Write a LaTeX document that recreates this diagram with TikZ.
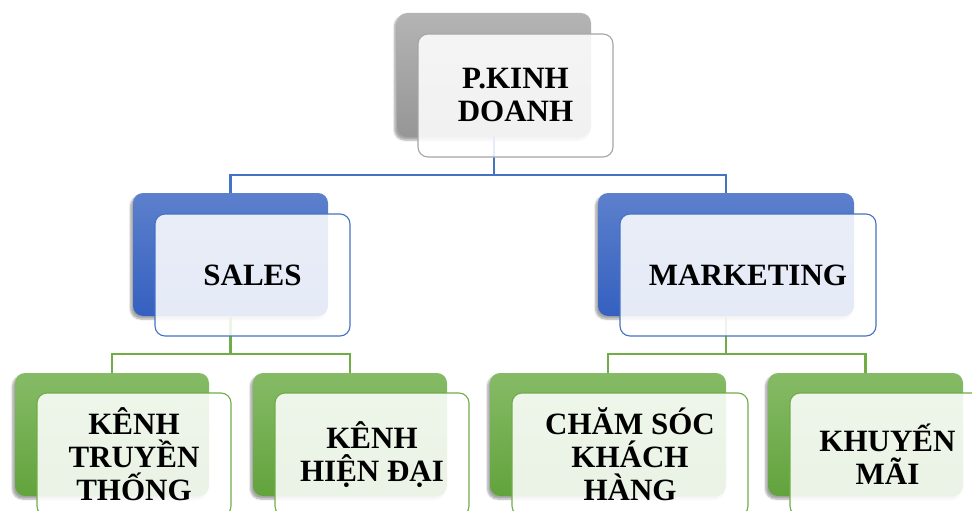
\documentclass[tikz,border=0pt]{standalone}
\usepackage{fontspec}
\setmainfont{Liberation Serif}
\usetikzlibrary{shadows.blur}
\definecolor{grayTop}{HTML}{B4B4B4}
\definecolor{grayBot}{HTML}{969696}
\definecolor{grayLine}{HTML}{A5A5A5}
\definecolor{blueTop}{HTML}{5C80CC}
\definecolor{blueBot}{HTML}{3560C0}
\definecolor{blueLine}{HTML}{4472C4}
\definecolor{greenTop}{HTML}{86BB66}
\definecolor{greenBot}{HTML}{62A33D}
\definecolor{greenLine}{HTML}{70AD47}
\tikzset{
  backbox/.style={draw=none, rounded corners=10pt, inner sep=0pt, outer sep=0pt,
    top color=#1Top, bottom color=#1Bot,
    blur shadow={shadow xshift=-2.5pt, shadow yshift=-3pt, shadow blur steps=6, shadow opacity=35}},
  frontbox/.style={draw=#1Line, line width=1.1pt, rounded corners=10pt, fill=white,
    fill opacity=0.87, text opacity=1, inner sep=0pt, outer sep=0pt, align=center,
    font=\fontsize{31}{33}\selectfont\bfseries},
  conn/.style={draw=#1Line, line width=2.4pt},
}
\begin{document}
\begin{tikzpicture}[x=1pt,y=-1pt]
\useasboundingbox (0,0) rectangle (972,511);
% back boxes
\node[backbox=gray, minimum width=194pt, minimum height=124pt] (topB) at (494,75) {};
\node[backbox=blue, minimum width=195pt, minimum height=123pt] (salesB) at (230.5,254.5) {};
\node[backbox=blue, minimum width=256pt, minimum height=123pt] (mktB) at (726,254.5) {};
\node[backbox=green, minimum width=194pt, minimum height=123pt] (k1B) at (112,434.5) {};
\node[backbox=green, minimum width=194pt, minimum height=123pt] (k2B) at (350,434.5) {};
\node[backbox=green, minimum width=236pt, minimum height=123pt] (k3B) at (608,434.5) {};
\node[backbox=green, minimum width=195pt, minimum height=123pt] (k4B) at (865.5,434.5) {};
% connectors
\draw[conn=blue] (topB.south) -- (topB.south |- 0,175) -| (salesB.north);
\draw[conn=blue] (topB.south) -- (topB.south |- 0,175) -| (mktB.north);
\draw[conn=green] (salesB.south) -- (salesB.south |- 0,354) -| (k1B.north);
\draw[conn=green] (salesB.south) -- (salesB.south |- 0,354) -| (k2B.north);
\draw[conn=green] (mktB.south) -- (mktB.south |- 0,354) -| (k3B.north);
\draw[conn=green] (mktB.south) -- (mktB.south |- 0,354) -| (k4B.north);
% front boxes
\node[frontbox=gray, minimum width=195pt, minimum height=123pt] (top) at (515.5,95.5) {P.KINH\\DOANH};
\node[frontbox=blue, minimum width=195pt, minimum height=122pt] (sales) at (252.5,275) {SALES};
\node[frontbox=blue, minimum width=256pt, minimum height=122pt] (mkt) at (748,275) {MARKETING};
\node[frontbox=green, minimum width=194pt, minimum height=123pt] (k1) at (134,454.5) {KÊNH\\TRUYỀN\\THỐNG};
\node[frontbox=green, minimum width=194pt, minimum height=123pt] (k2) at (372,454.5) {KÊNH\\HIỆN ĐẠI};
\node[frontbox=green, minimum width=236pt, minimum height=123pt] (k3) at (630,454.5) {CHĂM SÓC\\KHÁCH\\HÀNG};
\node[frontbox=green, minimum width=195pt, minimum height=123pt] (k4) at (887.5,454.5) {KHUYẾN\\MÃI};
\end{tikzpicture}
\end{document}
